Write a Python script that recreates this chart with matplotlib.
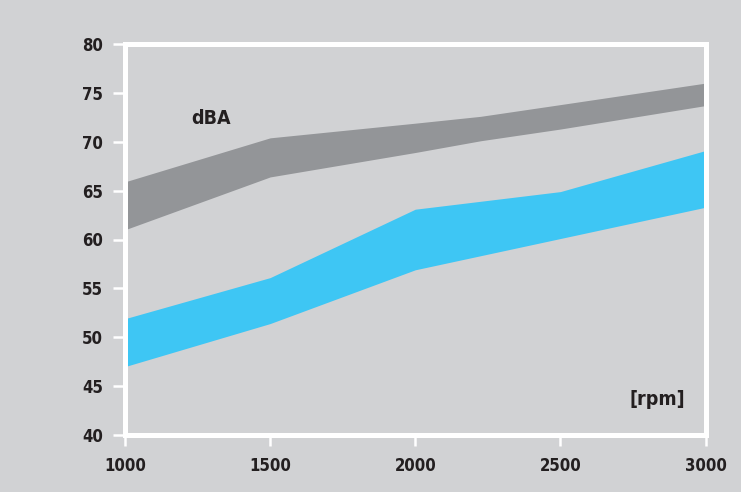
import matplotlib
matplotlib.use('Agg')
from matplotlib import pyplot as plt

# rpm positions and sound level bands (dBA)
gray_x = [1000, 1500, 2000, 2225, 2500, 3000]
gray_hi = [65.9, 70.4, 71.9, 72.6, 73.8, 76.0]
gray_lo = [61.0, 66.4, 68.9, 70.1, 71.3, 73.7]

blue_x = [1000, 1500, 2000, 2500, 3000]
blue_hi = [51.9, 56.1, 63.1, 64.9, 69.1]
blue_lo = [47.0, 51.4, 56.9, 60.1, 63.3]

x_ticks = [1000, 1500, 2000, 2500, 3000]
y_ticks = [40, 45, 50, 55, 60, 65, 70, 75, 80]

bg = '#d1d2d4'
txt = '#231f20'
font = ['DejaVu Sans']

fig = plt.figure(figsize=(7.41, 4.92), dpi=100, facecolor=bg)
ax = fig.add_axes([125/741, 1 - 435/492, 580.5/741, 391/492])
ax.set_facecolor(bg)

ax.fill_between(gray_x, gray_lo, gray_hi, color='#939598', linewidth=0)
ax.fill_between(blue_x, blue_lo, blue_hi, color='#3ec6f4', linewidth=0)

ax.set_xlim(1000, 3000)
ax.set_ylim(40, 80)
ax.set_xticks(x_ticks)
ax.set_yticks(y_ticks)

for s in ax.spines.values():
    s.set_color('white')
    s.set_linewidth(3.6)

ax.tick_params(axis='both', direction='out', color='white', width=1.8, labelcolor=txt)
ax.tick_params(axis='y', length=9, pad=7)
ax.tick_params(axis='x', length=8, pad=8)
for lab in ax.get_xticklabels() + ax.get_yticklabels():
    lab.set_fontfamily(font)
    lab.set_fontstretch('condensed')
    lab.set_fontweight('bold')
    lab.set_fontsize(12)

ax.text(1296, 72.4, 'dBA', family=font, stretch='condensed', fontweight='bold',
        fontsize=14, color=txt, ha='center', va='center')
ax.text(2834, 43.6, '[rpm]', family=font, stretch='condensed', fontweight='bold',
        fontsize=14, color=txt, ha='center', va='center')

fig.savefig('out.png', dpi=100, facecolor=bg)
